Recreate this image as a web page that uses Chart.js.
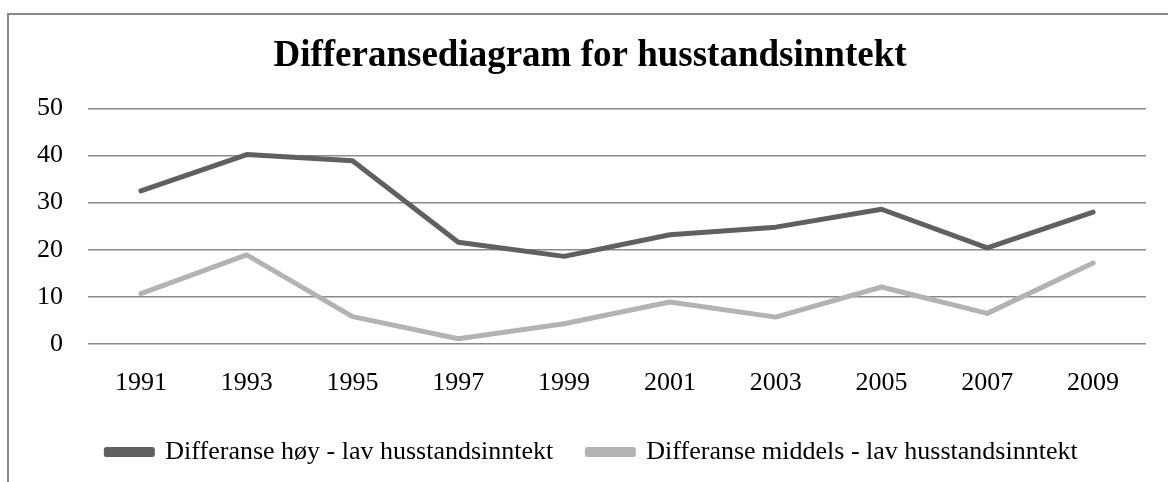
<!DOCTYPE html>
<html>
<head>
<meta charset="utf-8">
<script src="https://cdn.jsdelivr.net/npm/chart.js@4"></script>
<style>
  body { margin: 0; background: #fff; overflow: hidden; }
  #wrap { position: relative; width: 1168px; height: 482px; }
  #frame { position: absolute; left: 7px; top: 13px; width: 1200px; height: 600px;
           border: 2px solid #888; box-sizing: border-box; pointer-events: none; }
</style>
</head>
<body>
<div id="wrap">
  <canvas id="chart" width="1168" height="482"></canvas>
  <div id="frame"></div>
</div>
<script>
// data
const years = ['1991', '1993', '1995', '1997', '1999', '2001', '2003', '2005', '2007', '2009'];
const hoyLav = [32.5, 40.2, 38.9, 21.6, 18.6, 23.2, 24.8, 28.6, 20.4, 28.0];
const middelsLav = [10.7, 18.9, 5.8, 1.1, 4.3, 8.9, 5.7, 12.1, 6.5, 17.2];
const seriesNames = ['Differanse høy - lav husstandsinntekt', 'Differanse middels - lav husstandsinntekt'];
const yMin = 0, yMax = 50, yStep = 10;

const serif = "'Liberation Serif', 'Times New Roman', serif";

// title and legend sit a bit right of the plot centre in the original
const centreShift = {
    id: 'centreShift',
    beforeDraw: function(chart) {
        chart.titleBlock.left = 34;
        chart.legend.left = 38;
    }
};

document.addEventListener('DOMContentLoaded', function() {
    const ctx = document.getElementById('chart').getContext('2d');
    new Chart(ctx, {
        type: 'line',
        data: {
            labels: years,
            datasets: [{
                label: seriesNames[0],
                data: hoyLav,
                borderColor: '#606060',
                backgroundColor: '#606060',
                borderWidth: 5
            }, {
                label: seriesNames[1],
                data: middelsLav,
                borderColor: '#b3b3b3',
                backgroundColor: '#b3b3b3',
                borderWidth: 5
            }]
        },
        plugins: [centreShift],
        options: {
            responsive: false,
            animation: false,
            layout: { padding: { top: 20, left: 0, right: 22, bottom: 7 } },
            elements: {
                point: { radius: 0 },
                line: { tension: 0, borderCapStyle: 'round', borderJoinStyle: 'round' }
            },
            scales: {
                x: {
                    offset: true,
                    grid: { display: false, drawTicks: false },
                    border: { display: false },
                    ticks: { color: '#000', padding: 24, font: { family: serif, size: 26 }, maxRotation: 0 },
                    afterFit: function(s) { s.height = 61; }
                },
                y: {
                    min: yMin,
                    max: yMax,
                    ticks: { stepSize: yStep, color: '#000', padding: 25, font: { family: serif, size: 26 } },
                    grid: { color: '#8a8a8a', lineWidth: 1.5, drawTicks: false },
                    border: { display: false },
                    afterFit: function(s) { s.width = 88; }
                }
            },
            plugins: {
                title: {
                    display: true,
                    text: 'Differansediagram for husstandsinntekt',
                    color: '#000',
                    font: { family: serif, size: 37, weight: 'bold' },
                    padding: { top: 14, bottom: 30 }
                },
                legend: {
                    position: 'bottom',
                    labels: {
                        color: '#000',
                        font: { family: serif, size: 26 },
                        boxWidth: 46,
                        boxHeight: 5,
                        padding: 34
                    }
                },
                tooltip: { enabled: false }
            }
        }
    });
});
</script>
</body>
</html>
